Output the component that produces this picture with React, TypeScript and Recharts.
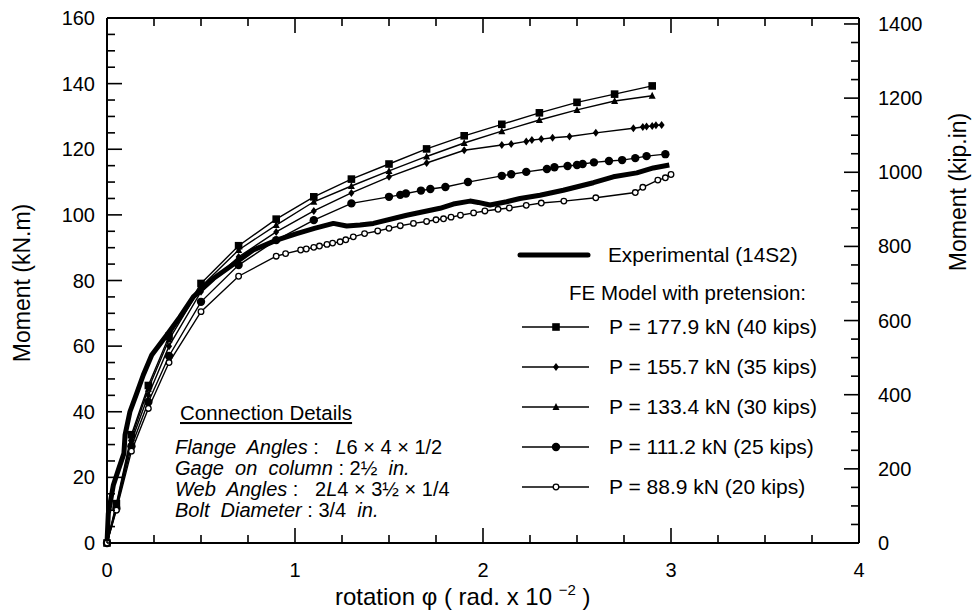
import React from 'react';
import { LineChart, Line, XAxis, YAxis, Legend, Label } from 'recharts';

const FONT = '"Liberation Sans", Arial, Helvetica, sans-serif';

// rotation (rad x 10^-2) vs moment (kN.m)
const expRot = [0, 0.007, 0.034, 0.06, 0.09, 0.096, 0.122, 0.158, 0.193, 0.238, 0.318, 0.388, 0.459, 0.566, 0.702, 0.778, 0.902, 1.009, 1.103, 1.204, 1.275, 1.346, 1.417, 1.594, 1.771, 1.842, 1.931, 1.975, 2.037, 2.126, 2.197, 2.303, 2.427, 2.587, 2.693, 2.818, 2.906, 2.991];
const expMom = [0, 9, 17.7, 22.2, 27.3, 32.9, 40, 45.6, 51.2, 57.3, 63.4, 68.9, 75, 80.6, 86.2, 89.3, 92.3, 94.3, 95.9, 97.4, 96.6, 96.9, 97.4, 99.9, 102.0, 103.3, 104.2, 103.8, 103.0, 104.0, 105.0, 106.0, 107.5, 109.8, 111.6, 112.8, 114.3, 115.2];

const feRot = [0, 0.05, 0.13, 0.22, 0.33, 0.5, 0.7, 0.9, 1.1, 1.3, 1.5, 1.7, 1.9, 2.1, 2.3, 2.5, 2.7, 2.9];
const p40Mom = [0, 12, 33, 48, 63, 79.1, 90.6, 98.7, 105.5, 110.9, 115.5, 120.1, 124.1, 127.6, 131.1, 134.3, 136.8, 139.3];
const p30Mom = [0, 11.5, 32, 47, 62, 78.1, 89.3, 96.9, 104.0, 108.8, 113.4, 117.8, 121.9, 125.5, 128.9, 132.0, 134.7, 136.3];

const p35Rot = [0, 0.05, 0.13, 0.22, 0.33, 0.5, 0.7, 0.9, 1.1, 1.3, 1.5, 1.7, 1.9, 2.1, 2.15, 2.23, 2.26, 2.31, 2.37, 2.46, 2.6, 2.8, 2.85, 2.87, 2.9, 2.92, 2.95];
const p35Mom = [0, 11, 31, 45, 60, 76.6, 87.2, 94.8, 101.2, 106.7, 111.6, 115.8, 119.7, 121.3, 121.6, 122.4, 122.8, 123.1, 123.5, 123.9, 125.0, 126.4, 126.8, 126.9, 127.1, 127.3, 127.4];

const p25Rot = [0, 0.05, 0.13, 0.22, 0.33, 0.5, 0.7, 0.9, 1.1, 1.3, 1.5, 1.56, 1.59, 1.67, 1.72, 1.8, 1.92, 2.1, 2.15, 2.23, 2.34, 2.38, 2.45, 2.5, 2.53, 2.59, 2.67, 2.74, 2.81, 2.87, 2.97];
const p25Mom = [0, 10.5, 29.5, 43, 57, 73.5, 84.7, 92.3, 98.4, 103.5, 105.5, 106.1, 106.5, 107.4, 107.9, 108.5, 110.0, 111.9, 112.4, 113.1, 114.0, 114.5, 114.9, 115.2, 115.5, 116.0, 116.4, 116.7, 117.3, 117.9, 118.5];

const p20Rot = [0, 0.05, 0.13, 0.22, 0.33, 0.5, 0.7, 0.9, 0.95, 1.03, 1.06, 1.1, 1.13, 1.17, 1.2, 1.24, 1.27, 1.31, 1.37, 1.44, 1.5, 1.56, 1.63, 1.7, 1.75, 1.79, 1.83, 1.88, 1.95, 2.01, 2.08, 2.14, 2.23, 2.31, 2.43, 2.6, 2.81, 2.85, 2.93, 2.97, 3.0];
const p20Mom = [0, 10, 28, 41, 55, 70.5, 81.3, 87.4, 88.2, 89.3, 89.6, 90.1, 90.5, 91.0, 91.4, 91.8, 92.4, 93.3, 94.3, 95.1, 95.9, 96.7, 97.4, 98.0, 98.5, 98.8, 99.3, 99.9, 100.6, 101.2, 101.7, 102.1, 102.9, 103.6, 104.2, 105.2, 106.8, 108.4, 110.6, 111.3, 112.3];

const rotTicks = Array.from({ length: 17 }, (_, i) => i * 0.25);
const knmTicks = Array.from({ length: 33 }, (_, i) => i * 5);
const kipTicks = Array.from({ length: 29 }, (_, i) => i * 50);
const KIPIN_PER_KNM = 8.8507;

const pts = (xs: number[], ys: number[]) => xs.map((x, i) => ({ x, y: ys[i] }));

const feSeries = [
  { key: 'p40', name: 'P = 177.9 kN (40 kips)', kind: 'square', data: pts(feRot, p40Mom) },
  { key: 'p35', name: 'P = 155.7 kN (35 kips)', kind: 'diamond', data: pts(p35Rot, p35Mom) },
  { key: 'p30', name: 'P = 133.4 kN (30 kips)', kind: 'triangle', data: pts(feRot, p30Mom) },
  { key: 'p25', name: 'P = 111.2 kN (25 kips)', kind: 'disc', data: pts(p25Rot, p25Mom) },
  { key: 'p20', name: 'P = 88.9 kN (20 kips)', kind: 'ring', data: pts(p20Rot, p20Mom) },
];

// experimental curve again in kip.in, so the top / right axes have a series
const expKipIn = pts(expRot, expMom.map((m) => m * KIPIN_PER_KNM));

function Marker({ kind, cx, cy }: { kind: string; cx: number; cy: number }) {
  switch (kind) {
    case 'square':
      return <rect x={cx - 3.8} y={cy - 3.8} width={7.6} height={7.6} fill="#000" />;
    case 'diamond':
      return <polygon points={`${cx},${cy - 4} ${cx + 3},${cy} ${cx},${cy + 4} ${cx - 3},${cy}`} fill="#000" />;
    case 'triangle':
      return <polygon points={`${cx},${cy - 4} ${cx + 3.5},${cy + 3} ${cx - 3.5},${cy + 3}`} fill="#000" />;
    case 'disc':
      return <circle cx={cx} cy={cy} r={4.2} fill="#000" />;
    default:
      return <circle cx={cx} cy={cy} r={2.8} fill="#fff" stroke="#000" strokeWidth={1.3} />;
  }
}

const BottomTick = (p: any) => {
  const v = p.payload.value;
  const major = Number.isInteger(v);
  return (
    <g>
      <line x1={p.x} x2={p.x} y1={p.y} y2={p.y - (major ? 15 : 8)} stroke="#000" strokeWidth={1.6} />
      {major && (
        <text x={p.x} y={p.y + 34} textAnchor="middle" fontSize={20} fontFamily={FONT} fill="#000">{v}</text>
      )}
    </g>
  );
};

const TopTick = (p: any) => {
  const major = Number.isInteger(p.payload.value);
  return <line x1={p.x} x2={p.x} y1={p.y} y2={p.y + (major ? 15 : 8)} stroke="#000" strokeWidth={1.6} />;
};

const LeftTick = (p: any) => {
  const v = p.payload.value;
  const major = v % 20 === 0;
  return (
    <g>
      <line x1={p.x} x2={p.x + (major ? 15 : 8)} y1={p.y} y2={p.y} stroke="#000" strokeWidth={1.6} />
      {major && (
        <text x={p.x - 12} y={p.y + 7} textAnchor="end" fontSize={20} fontFamily={FONT} fill="#000">{v}</text>
      )}
    </g>
  );
};

const RightTick = (p: any) => {
  const v = p.payload.value;
  const major = v % 200 === 0;
  return (
    <g>
      <line x1={p.x} x2={p.x - (major ? 15 : 8)} y1={p.y} y2={p.y} stroke="#000" strokeWidth={1.6} />
      {major && (
        <text x={p.x + 19} y={p.y + 7} textAnchor="start" fontSize={20} fontFamily={FONT} fill="#000">{v}</text>
      )}
    </g>
  );
};

const LegendBox = () => (
  <svg width={360} height={280} style={{ display: 'block', overflow: 'visible' }}>
    <line x1={20} x2={88} y1={25} y2={25} stroke="#000" strokeWidth={5} strokeLinecap="round" />
    <text x={108} y={32} fontSize={20.8} fontFamily={FONT}>Experimental (14S2)</text>
    <text x={69} y={70} fontSize={20.5} fontFamily={FONT}>FE Model with pretension:</text>
    {feSeries.map((s, i) => {
      const y = 97 + 40 * i;
      return (
        <g key={s.key}>
          <line x1={22} x2={89} y1={y} y2={y} stroke="#000" strokeWidth={1.5} />
          <Marker kind={s.kind} cx={56} cy={y} />
          <text x={109} y={y + 7} fontSize={21} fontFamily={FONT}>{s.name}</text>
        </g>
      );
    })}
  </svg>
);

export default function App() {
  return (
    <div style={{ position: 'absolute', left: 0, top: 0, width: 973, height: 614, background: '#fff' }}>
      <LineChart width={973} height={614} margin={{ top: 17, right: 0, bottom: 0, left: 0 }}>
        <XAxis
          xAxisId="b"
          dataKey="x"
          type="number"
          domain={[0, 4]}
          ticks={rotTicks}
          interval={0}
          height={71}
          tickSize={0}
          tickMargin={0}
          tickLine={false}
          axisLine={{ stroke: '#000', strokeWidth: 2 }}
          tick={BottomTick}
        >
          <Label
            content={() => (
              <text x={335} y={605} fontSize={24} fontFamily={FONT} fill="#000">
                rotation φ ( rad. x 10 <tspan dy={-10} fontSize={15}>−2</tspan>
                <tspan dy={10}> )</tspan>
              </text>
            )}
          />
        </XAxis>
        <XAxis
          xAxisId="t"
          orientation="top"
          dataKey="x"
          type="number"
          domain={[0, 4]}
          ticks={rotTicks}
          interval={0}
          height={1}
          tickSize={0}
          tickMargin={0}
          tickLine={false}
          axisLine={{ stroke: '#000', strokeWidth: 2 }}
          tick={TopTick}
        />
        <YAxis
          yAxisId="l"
          type="number"
          domain={[0, 160]}
          ticks={knmTicks}
          interval={0}
          width={107}
          tickSize={0}
          tickMargin={0}
          tickLine={false}
          axisLine={{ stroke: '#000', strokeWidth: 2 }}
          tick={LeftTick}
        >
          <Label
            content={() => (
              <text x={0} y={0} transform="translate(30,283) rotate(-90)" textAnchor="middle" fontSize={23} fontFamily={FONT} fill="#000">
                Moment (kN.m)
              </text>
            )}
          />
        </YAxis>
        <YAxis
          yAxisId="r"
          orientation="right"
          type="number"
          domain={[0, 160 * KIPIN_PER_KNM]}
          ticks={kipTicks}
          interval={0}
          width={114}
          tickSize={0}
          tickMargin={0}
          tickLine={false}
          axisLine={{ stroke: '#000', strokeWidth: 2 }}
          tick={RightTick}
        >
          <Label
            content={() => (
              <text x={0} y={0} transform="translate(966,192) rotate(-90)" textAnchor="middle" fontSize={23} fontFamily={FONT} fill="#000">
                Moment (kip.in)
              </text>
            )}
          />
        </YAxis>
        <Legend
          layout="horizontal"
          verticalAlign="middle"
          align="center"
          content={LegendBox}
          wrapperStyle={{ left: 500, top: 230, width: 360, height: 280 }}
        />
        <Line
          xAxisId="t"
          yAxisId="r"
          data={expKipIn}
          dataKey="y"
          stroke="none"
          dot={false}
          legendType="none"
          isAnimationActive={false}
        />
        <Line
          xAxisId="b"
          yAxisId="l"
          data={pts(expRot, expMom)}
          dataKey="y"
          name="Experimental (14S2)"
          stroke="#000"
          strokeWidth={5}
          strokeLinejoin="round"
          dot={false}
          isAnimationActive={false}
        />
        {feSeries.map((s) => (
          <Line
            key={s.key}
            xAxisId="b"
            yAxisId="l"
            data={s.data}
            dataKey="y"
            name={s.name}
            stroke="#000"
            strokeWidth={1.4}
            dot={(p: any) => (
              <g key={`${s.key}-${p.index}`}>
                <Marker kind={s.kind} cx={p.cx} cy={p.cy} />
              </g>
            )}
            isAnimationActive={false}
          />
        ))}
      </LineChart>
      <svg width={973} height={614} style={{ position: 'absolute', left: 0, top: 0, pointerEvents: 'none' }}>
        <text x={180} y={420} fontSize={20.5} fontFamily={FONT} textDecoration="underline">Connection Details</text>
        <g fontSize={20} fontFamily={FONT}>
          <text x={175} y={454} xmlSpace="preserve">
            <tspan fontStyle="italic">{'Flange  Angles'}</tspan>{' :   '}<tspan fontStyle="italic">L</tspan>{'6 × 4 × 1/2'}
          </text>
          <text x={175} y={475} xmlSpace="preserve">
            <tspan fontStyle="italic">{'Gage  on  column'}</tspan>{' : 2½  '}<tspan fontStyle="italic">in.</tspan>
          </text>
          <text x={175} y={496} xmlSpace="preserve">
            <tspan fontStyle="italic">{'Web  Angles'}</tspan>{' :   2'}<tspan fontStyle="italic">L</tspan>{'4 × 3½ × 1/4'}
          </text>
          <text x={175} y={517} xmlSpace="preserve">
            <tspan fontStyle="italic">{'Bolt  Diameter'}</tspan>{' : 3/4  '}<tspan fontStyle="italic">in.</tspan>
          </text>
        </g>
      </svg>
    </div>
  );
}
